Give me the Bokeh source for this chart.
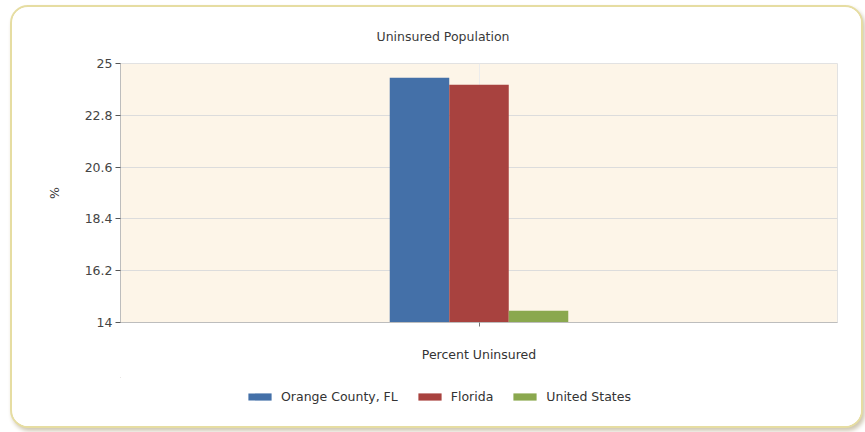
from bokeh.plotting import figure
from bokeh.layouts import column
from bokeh.models import Range1d, FactorRange, FixedTicker, Legend, LegendItem, ColumnDataSource
from bokeh.transform import dodge
from bokeh.embed import file_html
from bokeh.resources import INLINE

categories = ["Percent Uninsured"]
series_names = ["Orange County, FL", "Florida", "United States"]
orange_county = [24.4]
florida = [24.1]
united_states = [14.5]
y_ticks = [14, 16.2, 18.4, 20.6, 22.8, 25]

colors = ["#4470a8", "#a8423f", "#8aa84e"]
FONT = "DejaVu Sans"
FS = "12.5px"
series_cols = ["oc", "fl", "us"]

source = ColumnDataSource(data=dict(cat=categories, oc=orange_county, fl=florida, us=united_states))
x_range = FactorRange(*categories, range_padding=0)

p = figure(
    width=849, height=370,
    x_range=x_range,
    y_range=Range1d(14, 25),
    output_backend="svg", toolbar_location=None,
    min_border_left=108, min_border_right=24, min_border_top=55, min_border_bottom=55,
)

p.title.text = "Uninsured Population"
p.title.align = "left"
p.title.offset = 256
p.title.text_font = FONT
p.title.text_font_size = FS
p.title.text_font_style = "normal"
p.title.text_color = "#3a3a3a"
p.title.standoff = 39

w = 0.083
offsets = [-w, 0, w]
for col, off, c in zip(series_cols, offsets, colors):
    p.vbar(x=dodge("cat", off, range=x_range), top=col, bottom=14, width=w, source=source,
           fill_color=c, line_color=None)

p.background_fill_color = "#fdf5e8"
p.border_fill_color = "white"
p.outline_line_color = "#e2e2e2"

p.yaxis.ticker = FixedTicker(ticks=y_ticks)
p.yaxis.axis_label = "%"
p.yaxis.axis_label_text_font = FONT
p.yaxis.axis_label_text_font_style = "normal"
p.yaxis.axis_label_text_font_size = FS
p.yaxis.axis_label_text_color = "#3a3a3a"
p.yaxis.axis_label_standoff = 20
p.yaxis.major_label_text_font = FONT
p.yaxis.major_label_text_font_size = FS
p.yaxis.major_label_text_color = "#444444"
p.yaxis.major_label_standoff = 3
p.yaxis.major_tick_out = 5
p.yaxis.major_tick_in = 0
p.yaxis.minor_tick_out = 0
p.yaxis.minor_tick_in = 0
p.yaxis.axis_line_color = "#bdbdbd"
p.yaxis.major_tick_line_color = "#555555"

p.xaxis.major_label_text_font = FONT
p.xaxis.major_label_text_font_size = FS
p.xaxis.major_label_text_color = "#333333"
p.xaxis.major_label_standoff = 20
p.xaxis.major_tick_out = 4
p.xaxis.major_tick_in = 0
p.xaxis.axis_line_color = "#bdbdbd"
p.xaxis.major_tick_line_color = "#777777"

p.ygrid.grid_line_color = "#dcdcdc"
p.xgrid.grid_line_color = "#ececec"

# legend strip: the same series drawn far outside the strip's view; only the legend shows
lfig = figure(width=849, height=49, x_range=Range1d(0, 1), y_range=Range1d(0, 1),
              output_backend="svg", toolbar_location=None,
              x_axis_location=None, y_axis_location=None,
              min_border=0, min_border_left=0, min_border_right=0,
              min_border_top=0, min_border_bottom=0)
lfig.grid.visible = False
lfig.outline_line_color = None
lfig.background_fill_color = "white"
lfig.border_fill_color = "white"
items = []
for name, col, c in zip(series_names, series_cols, colors):
    r = lfig.vbar(x=-50, top=col, bottom=14, width=w, source=source,
                  fill_color=c, line_color=None)
    items.append(LegendItem(label=name, renderers=[r]))

legend = Legend(items=items, orientation="horizontal", location=(125, 22))
legend.label_text_font = FONT
legend.label_text_font_size = FS
legend.label_text_color = "#333333"
legend.glyph_width = 29
legend.glyph_height = 9
legend.label_standoff = 7
legend.spacing = 17
legend.border_line_color = None
legend.background_fill_alpha = 0
legend.padding = 4
legend.margin = 0
lfig.add_layout(legend, "center")

layout = column(p, lfig, spacing=0, margin=(5, 2, 5, 10),
                styles={"border": "2px solid #e6dda2", "border-radius": "18px",
                        "box-shadow": "2px 3px 4px #cfc7b2", "overflow": "hidden",
                        "background-color": "white"})

open("out.html", "w").write(file_html(layout, INLINE))
